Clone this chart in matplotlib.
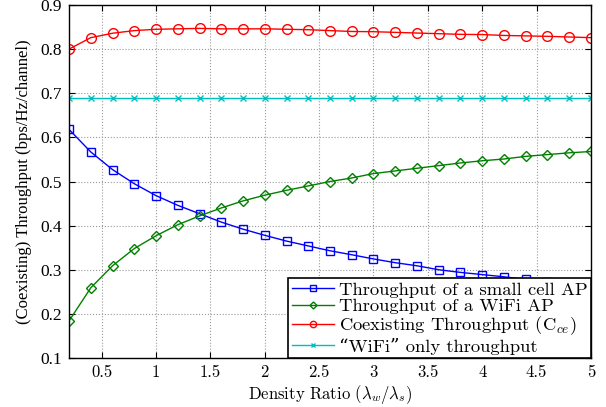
import numpy as np
import matplotlib
matplotlib.use('Agg')
import matplotlib.pyplot as plt

plt.rcParams['font.family'] = ['cmr10', 'DejaVu Serif']
plt.rcParams['mathtext.fontset'] = 'cm'
plt.rcParams['axes.formatter.use_mathtext'] = True

# density ratio lambda_w / lambda_s
ratio = np.arange(1, 26) * 0.2

small_cell = [0.618, 0.567, 0.527, 0.495, 0.468, 0.446, 0.427, 0.408, 0.392, 0.378,
              0.365, 0.354, 0.343, 0.334, 0.3245, 0.316, 0.309, 0.300, 0.294, 0.289,
              0.284, 0.278, 0.273, 0.268, 0.262]
wifi_ap = [0.184, 0.259, 0.309, 0.348, 0.377, 0.402, 0.422, 0.440, 0.456, 0.469,
           0.480, 0.490, 0.500, 0.508, 0.518, 0.524, 0.530, 0.536, 0.542, 0.547,
           0.551, 0.557, 0.561, 0.565, 0.568]
coexist = [0.800, 0.826, 0.836, 0.842, 0.845, 0.846, 0.847, 0.846, 0.846, 0.846,
           0.845, 0.844, 0.842, 0.840, 0.8395, 0.838, 0.8365, 0.835, 0.8335, 0.833,
           0.831, 0.830, 0.829, 0.8275, 0.826]
wifi_only = [0.689] * 25

fig = plt.figure(figsize=(6.06, 4.07), dpi=100)
ax = fig.add_axes([0.1139, 0.1204, 0.8613, 0.8673])

ax.plot(ratio, small_cell, '-s', color='b', lw=1, ms=6, mfc='none', mew=1,
        label='Throughput of a small cell AP')
ax.plot(ratio, wifi_ap, '-D', color=(0, 0.5, 0), lw=1, ms=5.5, mfc='none', mew=1,
        label='Throughput of a WiFi AP')
ax.plot(ratio, coexist, '-o', color='r', lw=1, ms=7, mfc='none', mew=1,
        label=r'Coexisting Throughput (C$_{ce}$)')
ax.plot(ratio, wifi_only, '-x', color=(0, 0.75, 0.75), lw=1, ms=4.5, mew=1,
        label='\u201cWiFi\u201d only throughput')

ax.set_xlim(0.2, 5)
ax.set_ylim(0.1, 0.9)
ax.set_xticks([0.5, 1, 1.5, 2, 2.5, 3, 3.5, 4, 4.5, 5])
ax.set_xticklabels(['0.5', '1', '1.5', '2', '2.5', '3', '3.5', '4', '4.5', '5'],
                   fontsize=12)
ax.set_yticks(np.arange(1, 10) * 0.1)
ax.set_yticklabels(['0.1', '0.2', '0.3', '0.4', '0.5', '0.6', '0.7', '0.8', '0.9'],
                   family='Liberation Serif', fontsize=12.5)
ax.tick_params(direction='in', top=True, right=True, length=4, pad=5)
ax.grid(True, ls=':', color='0.6', lw=0.8)
for s in ax.spines.values():
    s.set_linewidth(1)

ax.set_xlabel(r'Density Ratio ($\lambda_w/\lambda_s$)', fontsize=12, labelpad=2)
ax.set_ylabel('(Coexisting) Throughput (bps/Hz/channel)', family='Liberation Serif',
              fontsize=12, labelpad=6)

leg = ax.legend(loc='lower right', prop={'family': ['cmr10', 'DejaVu Serif'], 'size': 13.4},
                fancybox=False, edgecolor='k', framealpha=1, borderaxespad=0,
                handlelength=2.3, handletextpad=0.25, labelspacing=0.02,
                borderpad=0.18, markerscale=0.65)
leg.get_frame().set_linewidth(1.2)

plt.savefig('out.png', dpi=100)
